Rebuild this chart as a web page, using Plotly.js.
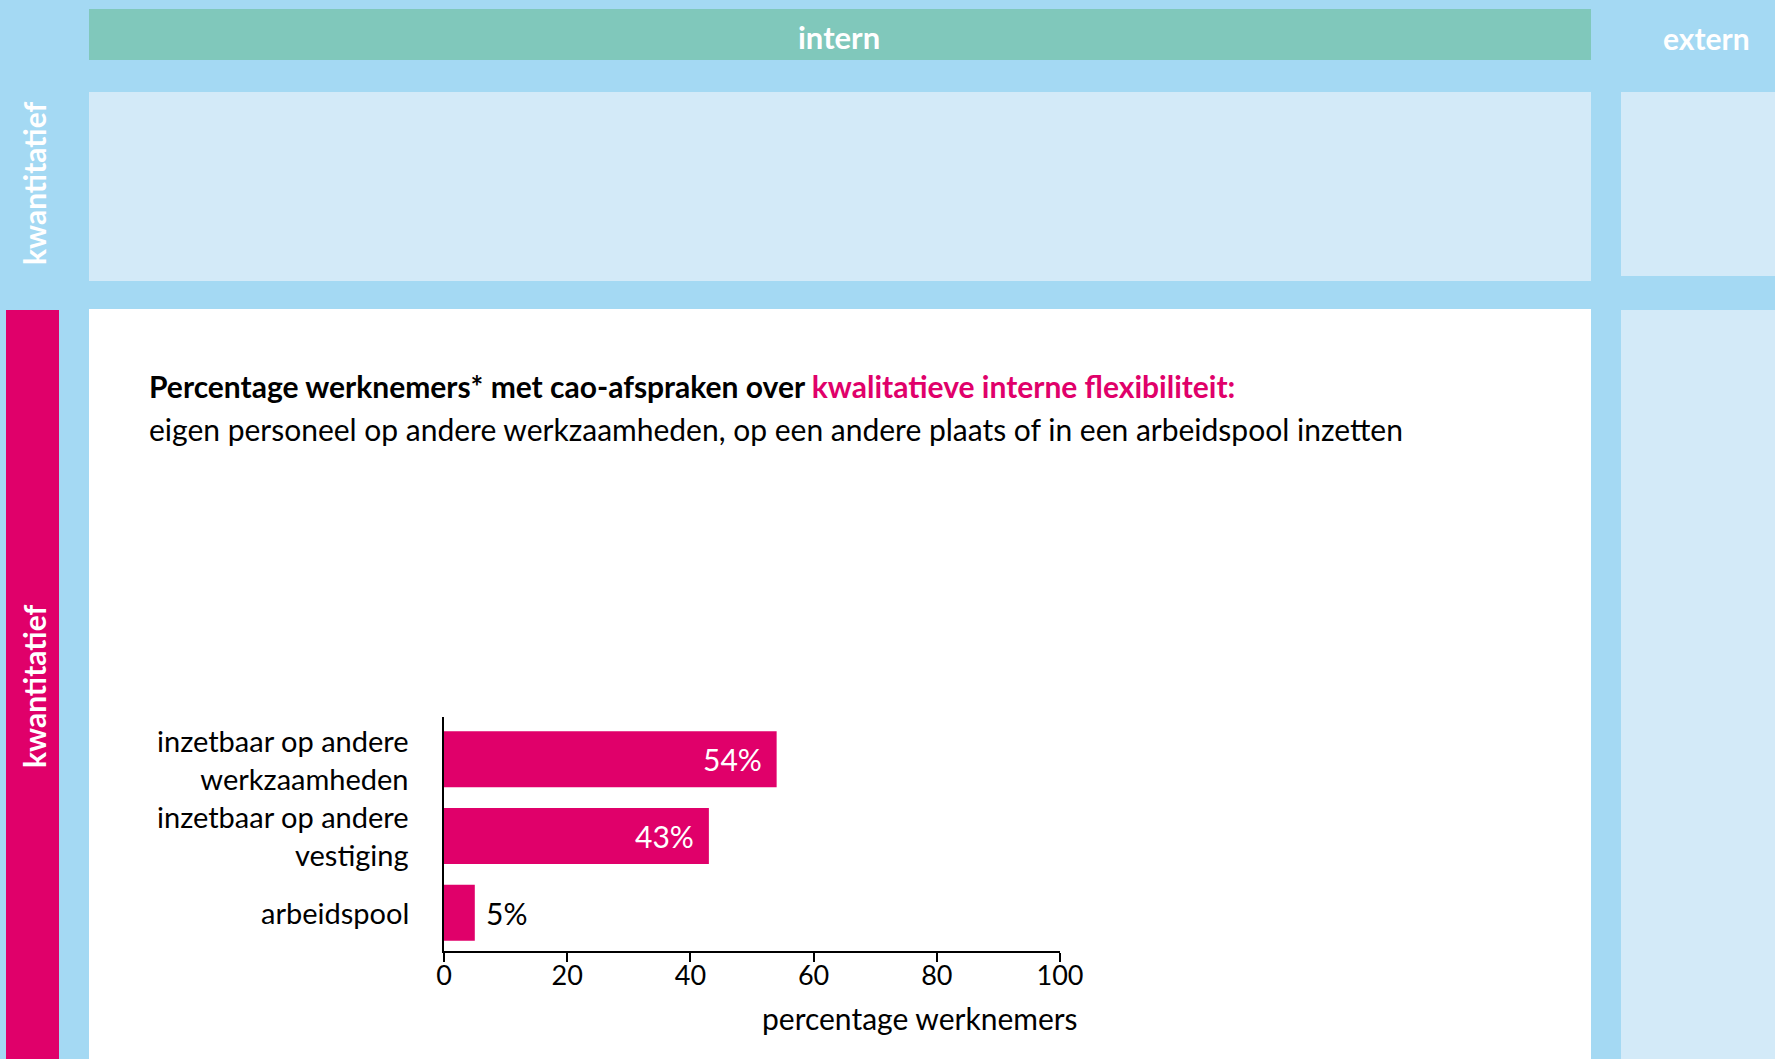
<!DOCTYPE html>
<html>
<head>
<meta charset="utf-8">
<script src="https://cdn.plot.ly/plotly-3.0.1.min.js"></script>
<style>
  html, body { margin: 0; padding: 0; background: #a4d9f3; }
  #chart { width: 1775px; height: 1059px; }
</style>
</head>
<body>
<div id="chart"></div>
<script>
// data
let categories = ["inzetbaar op andere werkzaamheden", "inzetbaar op andere vestiging", "arbeidspool"];
let tickLabels = ["inzetbaar op andere<br>werkzaamheden", "inzetbaar op andere<br>vestiging", "arbeidspool"];
let percentages = [54, 43, 5];
let xTicks = [0, 20, 40, 60, 80, 100];

let magenta = "#e0006a";
let lightBlue = "#a4d9f3";
let paleBlue = "#d3eaf8";
let green = "#80c8bb";
let font = "Lato, 'Open Sans', sans-serif";

// plot area in page pixels
let L = 444, R = 1060, T = 717, B = 951;
function px(x) { return (x - L) / (R - L); }
function py(y) { return (B - y) / (B - T); }

function box(x0, y0, x1, y1, color) {
    return {
        type: "rect", xref: "paper", yref: "paper", layer: "below",
        x0: px(x0), x1: px(x1), y0: py(y1), y1: py(y0),
        fillcolor: color, line: { width: 0 }
    };
}

function label(text, x, y, opts) {
    return Object.assign({
        text: text, xref: "paper", yref: "paper",
        x: px(x), y: py(y), showarrow: false,
        xanchor: "center", yanchor: "middle",
        font: { family: font, size: 30, color: "black" }
    }, opts || {});
}

let shapes = [
    box(89, 9, 1591, 60, green),
    box(89, 92, 1591, 281, paleBlue),
    box(1621, 92, 1780, 276, paleBlue),
    box(89, 309, 1591, 1065, "white"),
    box(1621, 310, 1780, 1065, paleBlue),
    box(6, 310, 59, 1065, magenta)
];

let white30 = { family: font, size: 30, color: "white" };
let annotations = [
    label("<b>intern</b>", 839, 37, { font: { family: font, size: 31, color: "white" } }),
    label("<b>extern</b>", 1706, 38, { font: white30 }),
    label("<b>kwantitatief</b>", 34, 184, { textangle: -90, font: white30 }),
    label("<b>kwantitatief</b>", 34, 687, { textangle: -90, font: white30 }),
    label("<b>Percentage werknemers* met cao-afspraken over </b><b><span style='color:" + magenta + "'>kwalitatieve interne flexibiliteit:</span></b>",
        147, 386, { xanchor: "left" }),
    label("eigen personeel op andere werkzaamheden, op een andere plaats of in een arbeidspool inzetten",
        147, 429, { xanchor: "left" }),
    label("percentage werknemers", 1080, 1018, { xanchor: "right" })
];

// category labels, right-aligned left of the axis
tickLabels.forEach(function (t, i) {
    annotations.push({
        text: t, x: 0, y: categories[i], xref: "paper", yref: "y",
        showarrow: false, xanchor: "right", yanchor: "middle", align: "right",
        xshift: -33,
        font: { family: font, size: 29, color: "black" }
    });
});

// value labels: inside the bar in white, or just outside in black
percentages.forEach(function (v, i) {
    let inside = v > 15;
    annotations.push({
        text: v + "%", x: v, y: categories[i], xref: "x", yref: "y",
        showarrow: false, xanchor: inside ? "right" : "left", yanchor: "middle",
        xshift: inside ? -13 : 9,
        font: { family: font, size: 30, color: inside ? "white" : "black" }
    });
});

let trace = {
    type: "bar",
    orientation: "h",
    x: percentages,
    y: categories,
    width: 0.73,
    marker: { color: magenta, line: { width: 0 } },
    hoverinfo: "skip"
};

let layout = {
    width: 1775,
    height: 1059,
    margin: { l: L, r: 1775 - R, t: T, b: 1059 - B, pad: 0 },
    paper_bgcolor: lightBlue,
    plot_bgcolor: "rgba(0,0,0,0)",
    showlegend: false,
    font: { family: font, color: "black" },
    xaxis: {
        range: [0, 100],
        tickvals: xTicks,
        ticks: "outside", ticklen: 9, tickwidth: 2, tickcolor: "black",
        ticklabelstandoff: -9,
        showline: true, linewidth: 2, linecolor: "black",
        showgrid: false, zeroline: false,
        tickfont: { family: font, size: 27, color: "black" }
    },
    yaxis: {
        type: "category",
        categoryorder: "array",
        categoryarray: categories,
        range: [2.5, -0.55],
        showticklabels: false,
        ticks: "",
        showline: true, linewidth: 2, linecolor: "black",
        showgrid: false, zeroline: false
    },
    shapes: shapes,
    annotations: annotations
};

Plotly.newPlot("chart", [trace], layout, { displayModeBar: false, staticPlot: true });
</script>
</body>
</html>
